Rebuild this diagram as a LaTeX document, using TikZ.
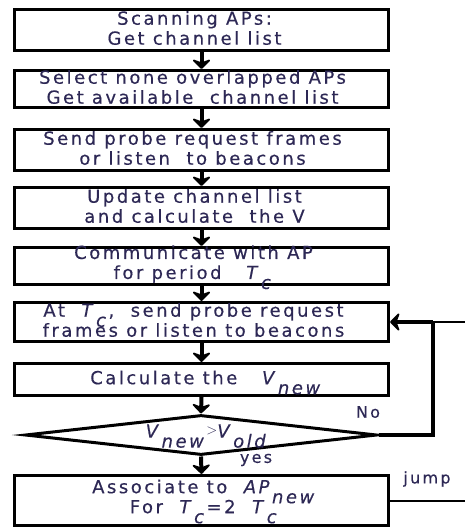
\documentclass[tikz,border=0pt]{standalone}
\usepackage{fontspec}
\setmainfont{DejaVu Sans}[LetterSpace=14,FakeBold=0.4]
\usetikzlibrary{arrows.meta,shapes.geometric}
\definecolor{txtc}{RGB}{45,40,85}
\newcommand\subit[2]{\textit{#1}\smash{\raisebox{-10pt}{\textit{#2}}}}
\begin{document}
\begin{tikzpicture}[x=1pt,y=-1pt,
  box/.style={draw=black,line width=3pt,rectangle,minimum width=374pt,inner sep=0pt},
  txt/.style={text=txtc,align=center,font=\fontsize{18}{20}\selectfont,inner sep=0pt},
  lbl/.style={text=txtc,font=\fontsize{16}{18}\selectfont,inner sep=0pt},
  flow/.style={line width=4pt,-{Stealth[length=11pt,width=22pt,inset=4pt,line width=2.5pt,round]}},
  loopline/.style={line width=3.5pt},
  jumpline/.style={line width=2pt}]
\useasboundingbox (0,0) rectangle (465,528);
\node[box,minimum height=41pt] (b1) at (201.5,30) {};
\node[box,minimum height=37pt] (b2) at (201.5,89) {};
\node[box,minimum height=41pt] (b3) at (201.5,150) {};
\node[box,minimum height=41pt] (b4) at (201.5,208) {};
\node[box,minimum height=37pt] (b5) at (201.5,266) {};
\node[box,minimum height=39pt] (b6) at (201.5,322) {};
\node[box,minimum height=32pt] (b7) at (201.5,379.5) {};
\node[draw=black,line width=3pt,diamond,minimum width=352pt,minimum height=40pt,inner sep=0pt,aspect=8.8] (d) at (201,435) {};
\node[box,minimum height=50pt] (b8) at (201.5,500.5) {};

\node[txt] (t1) at ([xshift=-7pt,yshift=2pt]b1.center) {Scanning APs:\\Get channel list};
\node[txt] (t2) at ([xshift=-9pt,yshift=2pt]b2.center) {Select none overlapped APs\\Get available~ channel list};
\node[txt] (t3) at ([xshift=-9pt,yshift=2pt]b3.center) {Send probe request frames\\or listen~ to beacons};
\node[txt] (t4) at ([xshift=-7pt,yshift=2pt]b4.center) {Update channel list\\and calculate~ the V};
\node[txt] (t5) at ([xshift=-8pt,yshift=2pt]b5.center) {Communicate with AP\\for period~~ \subit{T}{c}};
\node[txt] (t6) at ([xshift=-8pt,yshift=2pt]b6.center) {At~ \subit{T}{c},~ send probe request\\frames or listen to beacons};
\node[txt] (t7) at ([xshift=5pt,yshift=2pt]b7.center) {Calculate the~~ \subit{V}{new}};
\node[txt] (td) at (207,431) {\subit{V}{new}\raisebox{3pt}{\fontsize{15}{16}\selectfont$>$}\subit{V}{old}};
\node[txt] (t8) at ([xshift=3pt,yshift=4pt]b8.center) {Associate to~ \subit{AP}{new}\\For~ \subit{T}{c}=2~ \subit{T}{c}};

\draw[flow] (b1.south) -- (b2.north);
\draw[flow] (b2.south) -- (b3.north);
\draw[flow] (b3.south) -- (b4.north);
\draw[flow] (b4.south) -- (b5.north);
\draw[flow] (b5.south) -- (b6.north);
\draw[flow] (b6.south) -- (b7.north);
\draw[flow] (b7.south) -- (d.north);
\draw[flow] (d.south) -- (b8.north);

\coordinate (lc) at (433,435);
\coordinate (lt) at (433,322);
\coordinate (er) at (465,322);
\coordinate (ej) at (465,500.5);
\draw[loopline] (d.east) -- (lc) -- (lt);
\draw[flow] (lt) -- (b6.east);
\draw[jumpline] (lt) -- (er);
\draw[jumpline] (b8.east) -- (ej);

\node[lbl] (no) at (368,412) {No};
\node[lbl] (yes) at (256,460) {yes};
\node[lbl] (jump) at (427,479) {jump};
\end{tikzpicture}
\end{document}
